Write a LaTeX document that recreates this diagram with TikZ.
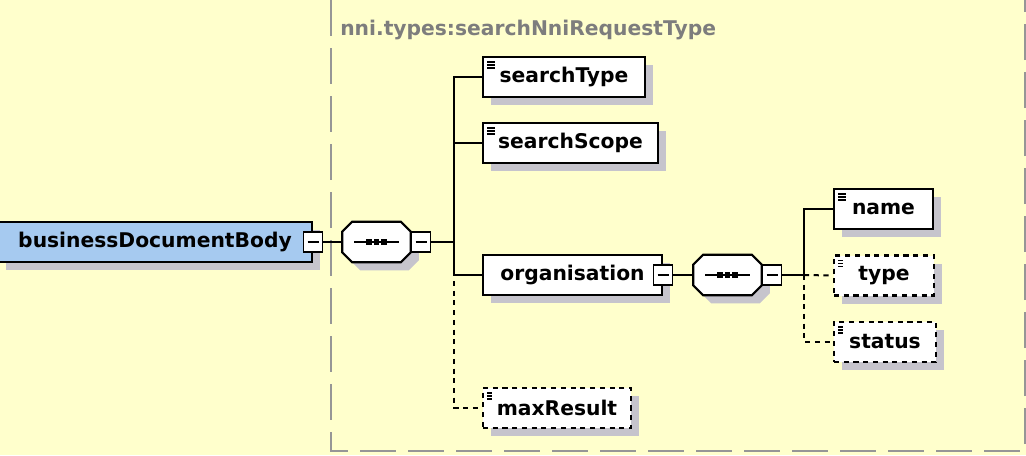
\documentclass[tikz,border=0pt]{standalone}
\usepackage{fontspec}
\setmainfont{DejaVu Sans}
\usetikzlibrary{shadows}

\definecolor{bgyellow}{RGB}{255,255,204}
\definecolor{bdblue}{RGB}{166,202,240}
\definecolor{shadegrey}{RGB}{198,196,204}
\definecolor{framegrey}{RGB}{150,150,150}
\definecolor{titlegrey}{RGB}{125,125,125}

\tikzset{
  elem/.style={draw, line width=1.6pt, fill=white, minimum height=30pt, inner sep=0pt,
    font=\fontsize{15.2pt}{18pt}\selectfont\bfseries,
    general shadow={fill=shadegrey, shadow xshift=6pt, shadow yshift=-6pt}},
  opt/.style={dash pattern=on 3.8pt off 3.5pt},
  leaf/.style={path picture={
    \foreach \k in {3.75,6,8.25}
      \draw[line width=1pt] ([shift={(3pt,-\k pt)}]path picture bounding box.north west) -- ++(6pt,0);}},
  toggle/.style={draw, line width=1.2pt, fill=white, minimum width=14.25pt, minimum height=15pt, inner sep=0pt,
    path picture={\draw[line width=1.1pt] ([xshift=3pt]path picture bounding box.west) -- ([xshift=-3pt]path picture bounding box.east);}},
  seqbox/.style={minimum width=51pt, minimum height=30pt, inner sep=0pt},
  octagon/.style={draw, line width=1.6pt, fill=white,
    general shadow={fill=shadegrey, shadow xshift=6pt, shadow yshift=-6pt}},
  conn/.style={line width=1.5pt},
  frame/.style={draw=framegrey, line width=1.5pt, dash pattern=on 27pt off 9pt}
}

% sequence compositor drawn round a named node
\newcommand\seqshape[1]{%
  \draw[octagon] ([xshift=7.5pt]#1.north west) -- ([xshift=-7.5pt]#1.north east)
    -- ([yshift=-7.5pt]#1.north east) -- ([yshift=7.5pt]#1.south east)
    -- ([xshift=-7.5pt]#1.south east) -- ([xshift=7.5pt]#1.south west)
    -- ([yshift=7.5pt]#1.south west) -- ([yshift=-7.5pt]#1.north west) -- cycle;
  \draw[line width=1.4pt] ([xshift=9pt]#1.west) -- ([xshift=-9pt]#1.east);
  \foreach \d in {-5.7,0,5.7}
    \fill ([xshift=\d pt]#1.center) +(-2.2pt,-2.2pt) rectangle +(2.2pt,2.2pt);
}

\begin{document}
\begin{tikzpicture}[x=0.75pt,y=-0.75pt]
\useasboundingbox (0,0) rectangle (1026,455);
\fill[bgyellow] (0,0) rectangle (1026,455);

% type frame
\draw[frame] (331,0) -- (331,451) -- (1025,451) -- (1025,0);
\node[anchor=west, inner sep=0pt, text=titlegrey, font=\fontsize{15.2pt}{18pt}\selectfont\bfseries] (title) at (340,29.5) {nni.types:searchNniRequestType};

% root element and first sequence
\node[elem, fill=bdblue, minimum width=235.5pt] (bdb) at (155,242) {businessDocumentBody};
\node[toggle] (bdbm) at (bdb.east) {};
\node[seqbox] (seqa) at (376.5,242) {};
\seqshape{seqa}
\node[toggle, anchor=west] (seqam) at (seqa.east) {};
\coordinate (ja) at (454,242);

% children of the sequence
\node[elem, leaf, minimum width=121.5pt] (stype) at (564,77) {searchType};
\node[elem, leaf, minimum width=131.25pt] (sscope) at (570.5,143) {searchScope};
\node[elem, minimum width=134.25pt] (org) at (572.5,275) {organisation};
\node[toggle] (orgm) at (org.east) {};
\node[elem, leaf, opt, minimum width=111pt] (maxres) at (557,408) {maxResult};

% organisation content
\node[seqbox] (seqb) at (727.5,275) {};
\seqshape{seqb}
\node[toggle, anchor=west] (seqbm) at (seqb.east) {};
\coordinate (jb) at (804,275);
\node[elem, leaf, minimum width=74.25pt] (name) at (883.5,209) {name};
\node[elem, leaf, opt, minimum width=75pt] (type) at (884,275.5) {type};
\node[elem, leaf, opt, minimum width=76.5pt] (status) at (885,342) {status};

% connectors
\draw[conn] (bdbm.east) -- (seqa.west);
\draw[conn] (seqam.east) -- (ja);
\draw[conn, opt] (ja) |- (maxres.west);
\draw[conn] (ja) |- (stype.west);
\draw[conn] (ja) |- (sscope.west);
\draw[conn] (ja) |- (org.west);
\draw[conn] (orgm.east) -- (seqb.west);
\draw[conn] (seqbm.east) -- (jb);
\draw[conn, opt] (jb) -- (type.west);
\draw[conn, opt] (jb) |- (status.west);
\draw[conn] (jb) |- (name.west);
\end{tikzpicture}
\end{document}
